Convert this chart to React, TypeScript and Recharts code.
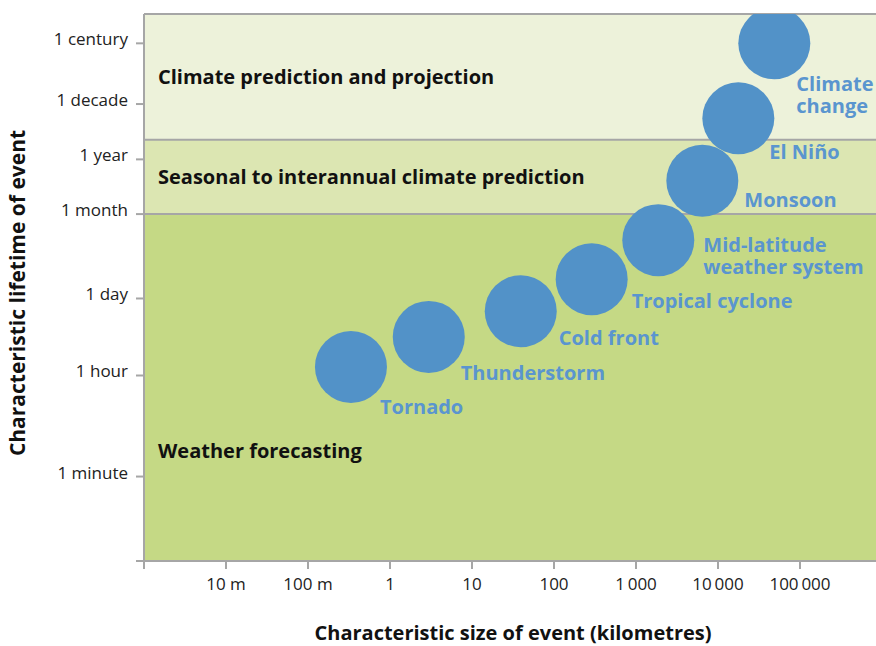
import React from "react";
import {
  ReferenceArea,
  ReferenceLine,
  Scatter,
  ScatterChart,
  XAxis,
  YAxis,
  Label,
} from "recharts";

// events along the diagonal, size in km, lifetime in log10(hours)
const events = [
  "Tornado",
  "Thunderstorm",
  "Cold front",
  "Tropical cyclone",
  "Mid-latitude weather system",
  "Monsoon",
  "El Niño",
  "Climate change",
];
const sizeKm = [0.334, 2.97, 39.3, 288, 1870, 6440, 17700, 48600];
const lifetimeLogHours = [0.154, 0.691, 1.151, 1.724, 2.422, 3.484, 4.601, 5.943];
const labelLines = [
  ["Tornado"],
  ["Thunderstorm"],
  ["Cold front"],
  ["Tropical cyclone"],
  ["Mid-latitude", "weather system"],
  ["Monsoon"],
  ["El Niño"],
  ["Climate", "change"],
];

// x axis: characteristic size (km), log scale
const xTicks = [0.001, 0.01, 0.1, 1, 10, 100, 1000, 10000, 100000];
const xTickLabels = ["", "10 m", "100 m", "1", "10", "100", "1\u2009000", "10\u2009000", "100\u2009000"];
const xDomain = [0.001, 845000];

// y axis: characteristic lifetime, log10(hours) positions
const yTicks = [-3.319, -1.808, 0, 1.378, 2.888, 3.867, 4.857, 5.943];
const yTickLabels = ["", "1 minute", "1 hour", "1 day", "1 month", "1 year", "1 decade", "1 century"];
const yDomain = [-3.319, 6.468];

// forecasting bands (bottom, top) in the same y units
const bandNames = [
  "Weather forecasting",
  "Seasonal to interannual climate prediction",
  "Climate prediction and projection",
];
const bandEdges = [-3.319, 2.888, 4.218, 6.468];

const FONT = "'Open Sans', sans-serif";
const GRID = "#a6a6a6";
const BUBBLE = "#5292c8";
const BUBBLE_TEXT = "#5a95cf";
const bandFills = ["#c5d985", "#dce6b2", "#edf2da"];

// label placement relative to bubble centre (layout only)
const labelOffsets = [
  { dx: 29, dy: 47 },
  { dx: 32, dy: 43 },
  { dx: 38, dy: 34 },
  { dx: 40, dy: 29 },
  { dx: 45, dy: 12 },
  { dx: 42, dy: 26 },
  { dx: 31, dy: 41 },
  { dx: 22, dy: 48 },
];
// baseline offset of each band title from its band centre
const bandLabelDy = [70, 7, 7];

const data = events.map((name, i) => ({
  name,
  size: sizeKm[i],
  life: lifetimeLogHours[i],
  idx: i,
}));

const renderBubble = (props: any) => {
  const { cx, cy } = props;
  if (cx == null || cy == null) return <g />;
  return <circle cx={cx} cy={cy} r={36} fill={BUBBLE} />;
};

const renderBubbleLabel = (props: any) => {
  const { cx, cy, payload } = props;
  if (cx == null || cy == null) return <g />;
  const off = labelOffsets[payload.idx];
  const x = cx + off.dx;
  return (
    <text
      x={x}
      y={cy + off.dy}
      fill={BUBBLE_TEXT}
      fontFamily={FONT}
      fontWeight={700}
      fontSize={20}
    >
      {labelLines[payload.idx].map((line, j) => (
        <tspan key={j} x={x} dy={j === 0 ? 0 : 22}>
          {line}
        </tspan>
      ))}
    </text>
  );
};

const bandLabel = (i: number) => (props: any) => {
  const vb = props.viewBox;
  if (!vb) return null;
  return (
    <text
      x={vb.x + 14}
      y={vb.y + vb.height / 2 + bandLabelDy[i]}
      fill="#111"
      fontFamily={FONT}
      fontWeight={700}
      fontSize={20}
    >
      {bandNames[i]}
    </text>
  );
};

// y tick labels sit a little above their tick marks in the original
const YTick = (props: any) => {
  const { x, y, index } = props;
  return (
    <text
      x={x}
      y={y + 2}
      textAnchor="end"
      fill="#222"
      fontSize={17}
      fontFamily={FONT}
    >
      {yTickLabels[index]}
    </text>
  );
};

export default function App() {
  return (
    <div style={{ position: "absolute", left: 0, top: 0 }}>
      <ScatterChart
        width={876}
        height={646}
        margin={{ top: 14, right: 0, bottom: 0, left: 0 }}
      >
        {bandNames.map((name, i) => (
          <ReferenceArea
            key={name}
            y1={bandEdges[i]}
            y2={bandEdges[i + 1]}
            fill={bandFills[i]}
            fillOpacity={1}
            stroke="none"
            label={bandLabel(i)}
          />
        ))}
        <ReferenceLine y={bandEdges[1]} stroke={GRID} strokeWidth={2} />
        <ReferenceLine y={bandEdges[2]} stroke={GRID} strokeWidth={2} />
        <ReferenceLine y={bandEdges[3]} stroke={GRID} strokeWidth={2} />
        <XAxis
          type="number"
          dataKey="size"
          scale="log"
          domain={xDomain}
          allowDataOverflow
          ticks={xTicks}
          interval={0}
          tickFormatter={(_v: number, i: number) => xTickLabels[i]}
          height={85}
          tickSize={8}
          tickMargin={9}
          axisLine={{ stroke: GRID, strokeWidth: 2 }}
          tickLine={{ stroke: GRID, strokeWidth: 2 }}
          tick={{ fill: "#222", fontSize: 17, fontFamily: FONT }}
        >
          <Label
            content={() => (
              <text
                x={513}
                y={640}
                textAnchor="middle"
                fill="#111"
                fontFamily={FONT}
                fontWeight={700}
                fontSize={20}
              >
                Characteristic size of event (kilometres)
              </text>
            )}
          />
        </XAxis>
        <YAxis
          type="number"
          dataKey="life"
          domain={yDomain}
          allowDataOverflow
          ticks={yTicks}
          interval={0}
          width={144}
          tickSize={8}
          tickMargin={8}
          axisLine={{ stroke: GRID, strokeWidth: 2 }}
          tickLine={{ stroke: GRID, strokeWidth: 2 }}
          tick={<YTick />}
        >
          <Label
            content={() => (
              <text
                x={0}
                y={0}
                transform="translate(25,293) rotate(-90)"
                textAnchor="middle"
                fill="#111"
                fontFamily={FONT}
                fontWeight={700}
                fontSize={21}
              >
                Characteristic lifetime of event
              </text>
            )}
          />
        </YAxis>
        <Scatter
          data={data}
          shape={renderBubble}
          isAnimationActive={false}
        />
        <Scatter
          data={data}
          shape={renderBubbleLabel}
          isAnimationActive={false}
        />
      </ScatterChart>
    </div>
  );
}
